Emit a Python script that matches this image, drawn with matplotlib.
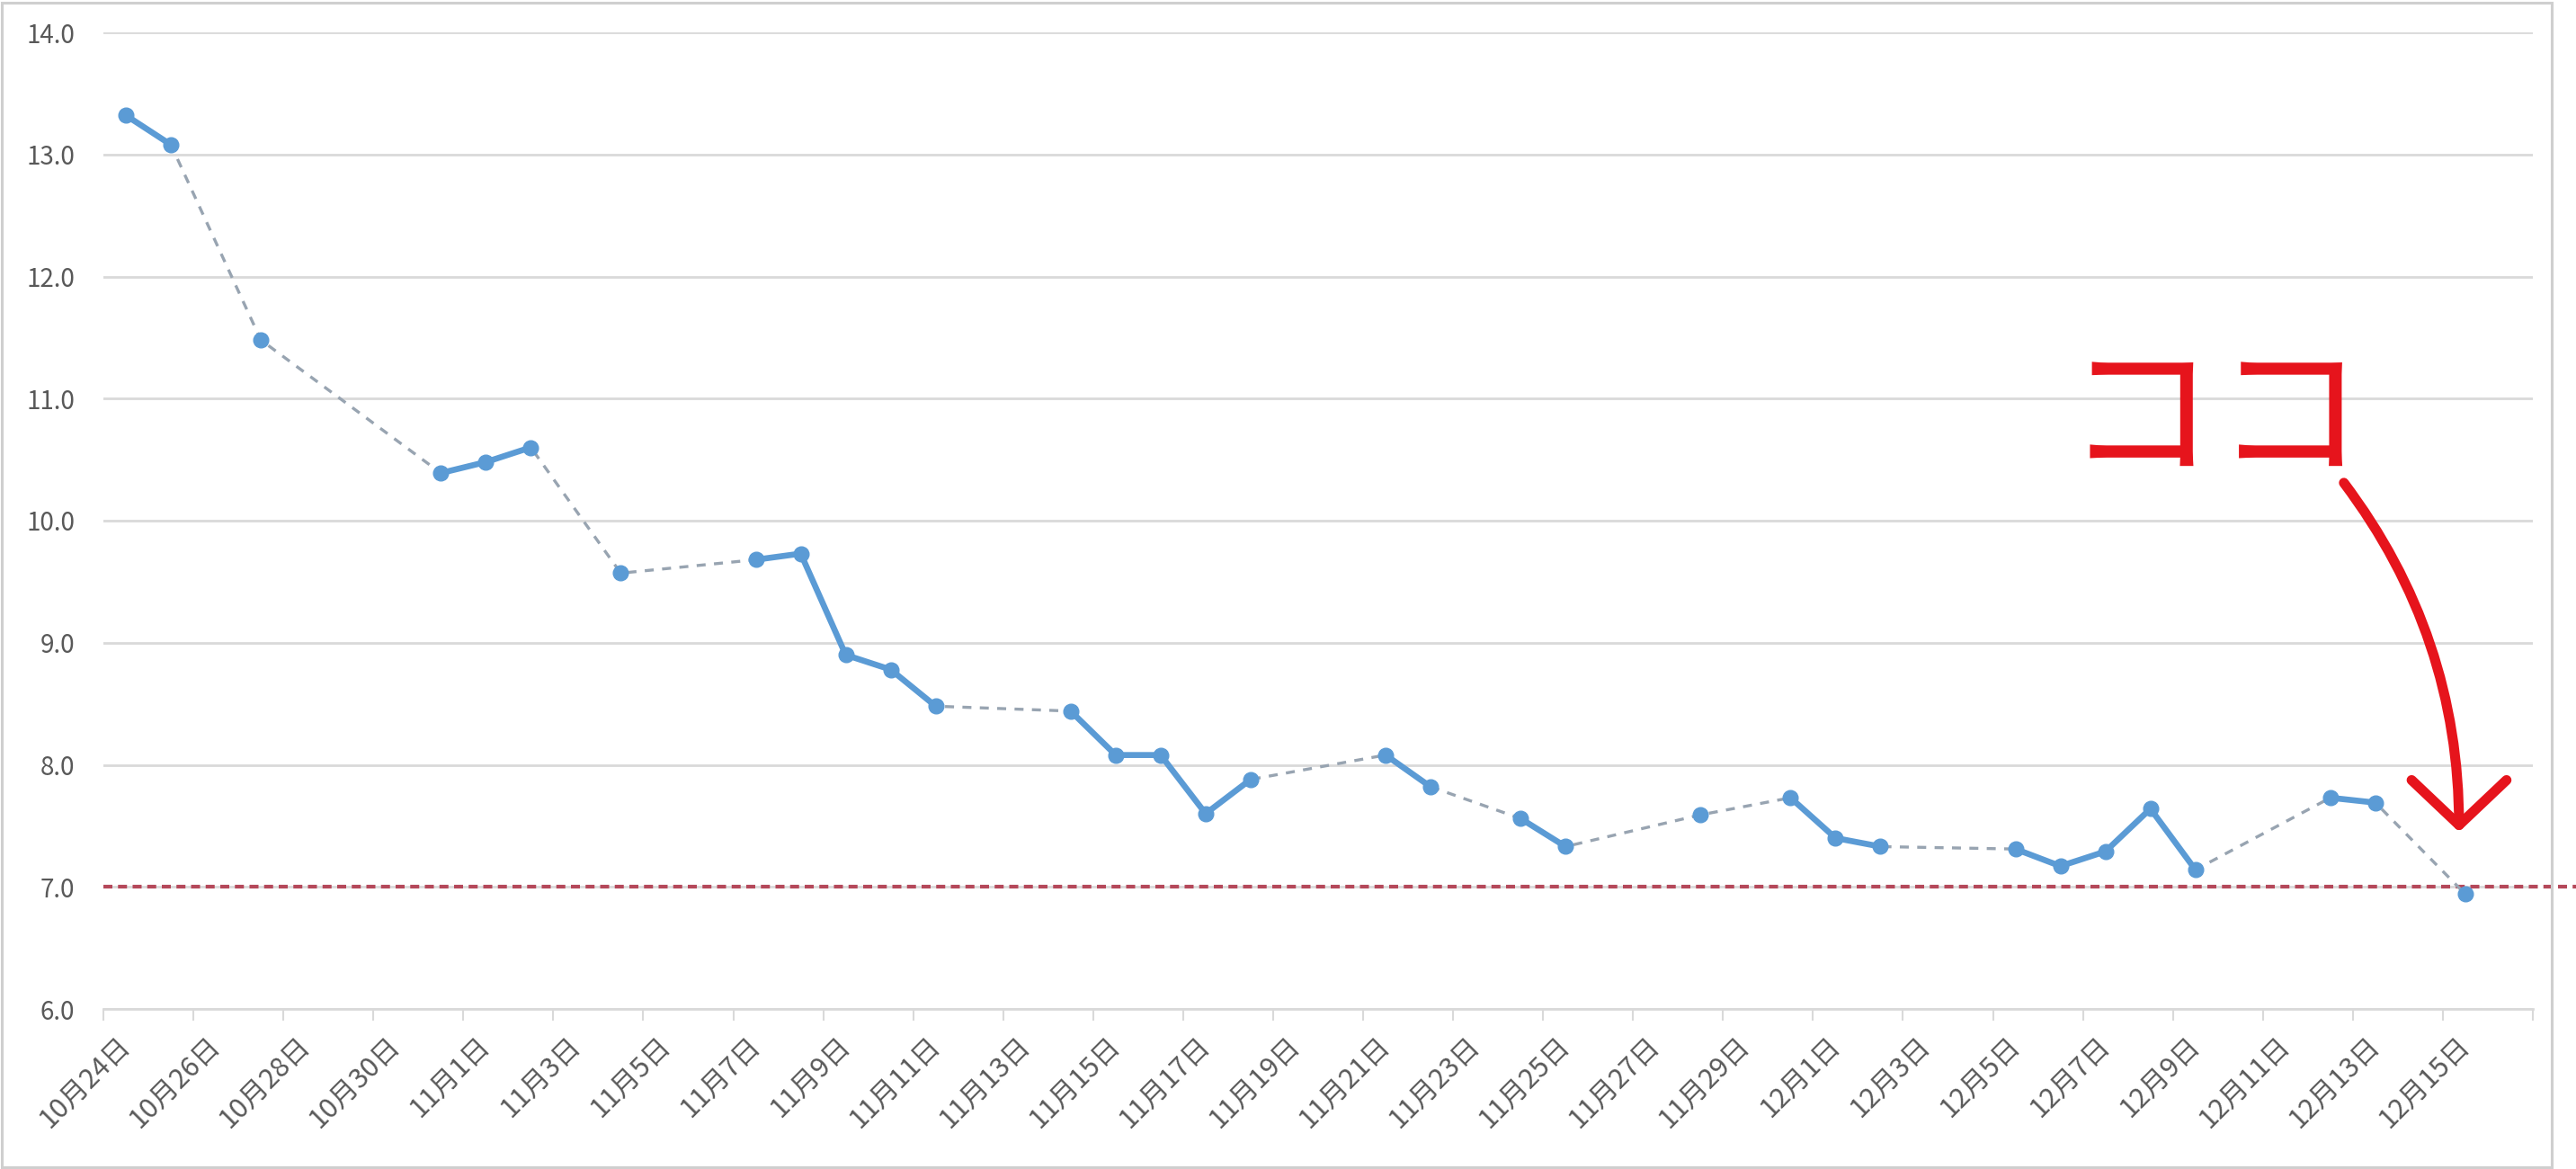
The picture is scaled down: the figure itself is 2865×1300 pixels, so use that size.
import matplotlib
matplotlib.use("Agg")
import matplotlib.pyplot as plt
import numpy as np
import pandas as pd
from matplotlib.patches import FancyArrowPatch, Rectangle
from matplotlib.ticker import FormatStrFormatter

plt.rcParams["font.family"] = ["Noto Sans CJK JP", "DejaVu Sans"]

# daily readings (gaps are days without data)
dates = [
    "2016-10-24", "2016-10-25", "2016-10-27", "2016-10-31", "2016-11-01",
    "2016-11-02", "2016-11-04", "2016-11-07", "2016-11-08", "2016-11-09",
    "2016-11-10", "2016-11-11", "2016-11-14", "2016-11-15", "2016-11-16",
    "2016-11-17", "2016-11-18", "2016-11-21", "2016-11-22", "2016-11-24",
    "2016-11-25", "2016-11-28", "2016-11-30", "2016-12-01", "2016-12-02",
    "2016-12-05", "2016-12-06", "2016-12-07", "2016-12-08", "2016-12-09",
    "2016-12-12", "2016-12-13", "2016-12-15",
]
values = [
    13.32, 13.08, 11.48, 10.39, 10.48,
    10.60, 9.57, 9.68, 9.73, 8.90,
    8.78, 8.48, 8.44, 8.08, 8.08,
    7.60, 7.88, 8.08, 7.82, 7.56,
    7.33, 7.59, 7.73, 7.40, 7.33,
    7.31, 7.17, 7.29, 7.64, 7.14,
    7.73, 7.69, 6.94,
]
axis_start = "2016-10-24"
axis_end = "2016-12-16"   # last day shown on the axis
target = 7.0
annotation_text = "ココ"

BLUE = "#5b9bd5"
GAP_GREY = "#98a4b1"
GRID = "#d9d9d9"
LABEL = "#595959"
RED = "#e6141c"

start = pd.Timestamp(axis_start)
days = pd.date_range(axis_start, axis_end, freq="D")
series = pd.Series(values, index=pd.to_datetime(dates))
daily = series.reindex(days)  # NaN where no data -> breaks the solid line

x_pts = (series.index - start).days.values + 0.5
x_daily = (daily.index - start).days.values + 0.5

W, H = 2865, 1300
fig = plt.figure(figsize=(W / 100, H / 100), dpi=100)
ax = fig.add_axes([115 / W, 1 - 1122 / H, (2817 - 115) / W, (1122 - 36) / H])

# dashed connector through every reading, solid only between consecutive days
ax.plot(x_pts, series.values, color=GAP_GREY, lw=2.4, dashes=(3.0, 2.8), zorder=2)
ax.plot(x_daily, daily.values, color=BLUE, lw=4.8, solid_capstyle="round", zorder=3)
ax.plot(x_pts, series.values, "o", color=BLUE, ms=12, zorder=4)

ax.set_xlim(0, len(days))
ax.set_ylim(6, 14)

# y axis
ax.set_yticks(np.arange(6, 15, 1))
ax.yaxis.set_major_formatter(FormatStrFormatter("%.1f"))
ax.yaxis.grid(True, color=GRID, lw=2.0)
ax.set_axisbelow(True)
ax.tick_params(axis="y", length=0, pad=23, labelsize=20, labelcolor=LABEL)

for side in ["left", "right", "top"]:
    ax.spines[side].set_visible(False)
ax.spines["bottom"].set_color(GRID)
ax.spines["bottom"].set_linewidth(2.0)

# x axis: ticks on day boundaries, labels centred on every other day
ax.set_xticks(np.arange(0, len(days) + 1, 2))
ax.set_xticklabels([])
ax.tick_params(axis="x", which="major", length=9, width=1.5, color=GRID)
label_days = days[::2]
ax.set_xticks((label_days - start).days.values + 0.5, minor=True)
ax.set_xticklabels([f"{d.month}月{d.day}日" for d in label_days], minor=True,
                   rotation=45, ha="right", va="center", rotation_mode="anchor")
ax.tick_params(axis="x", which="minor", length=0, pad=26, labelsize=22, labelcolor=LABEL)

# target line, runs off past the plot area
ax.axhline(target, xmin=0, xmax=(W - 115) / (2817 - 115), color="#b5485a",
           lw=3.0, dashes=(2.4, 1.5), clip_on=False, zorder=1)

# hand-drawn style callout
ax.text(46.94, 10.81, annotation_text, fontsize=120, color=RED,
        ha="center", va="center", clip_on=False, zorder=5)
arrow = FancyArrowPatch((49.8, 10.31), (52.36, 7.45),
                        connectionstyle="angle3,angleA=-53,angleB=90",
                        arrowstyle="->,head_length=1.8,head_width=1.9",
                        mutation_scale=20, lw=8, color=RED,
                        capstyle="round", joinstyle="round",
                        shrinkA=0, shrinkB=0, clip_on=False, zorder=5)
ax.add_patch(arrow)

# light frame around the whole picture
fig.add_artist(Rectangle((1.5 / W, 2.5 / H), (2838 - 1.5) / W, (1297.5 - 2.5) / H,
                         transform=fig.transFigure, fill=False,
                         edgecolor="#cfcfcf", lw=2.2))

fig.savefig("out.png", dpi=100, facecolor="white")
